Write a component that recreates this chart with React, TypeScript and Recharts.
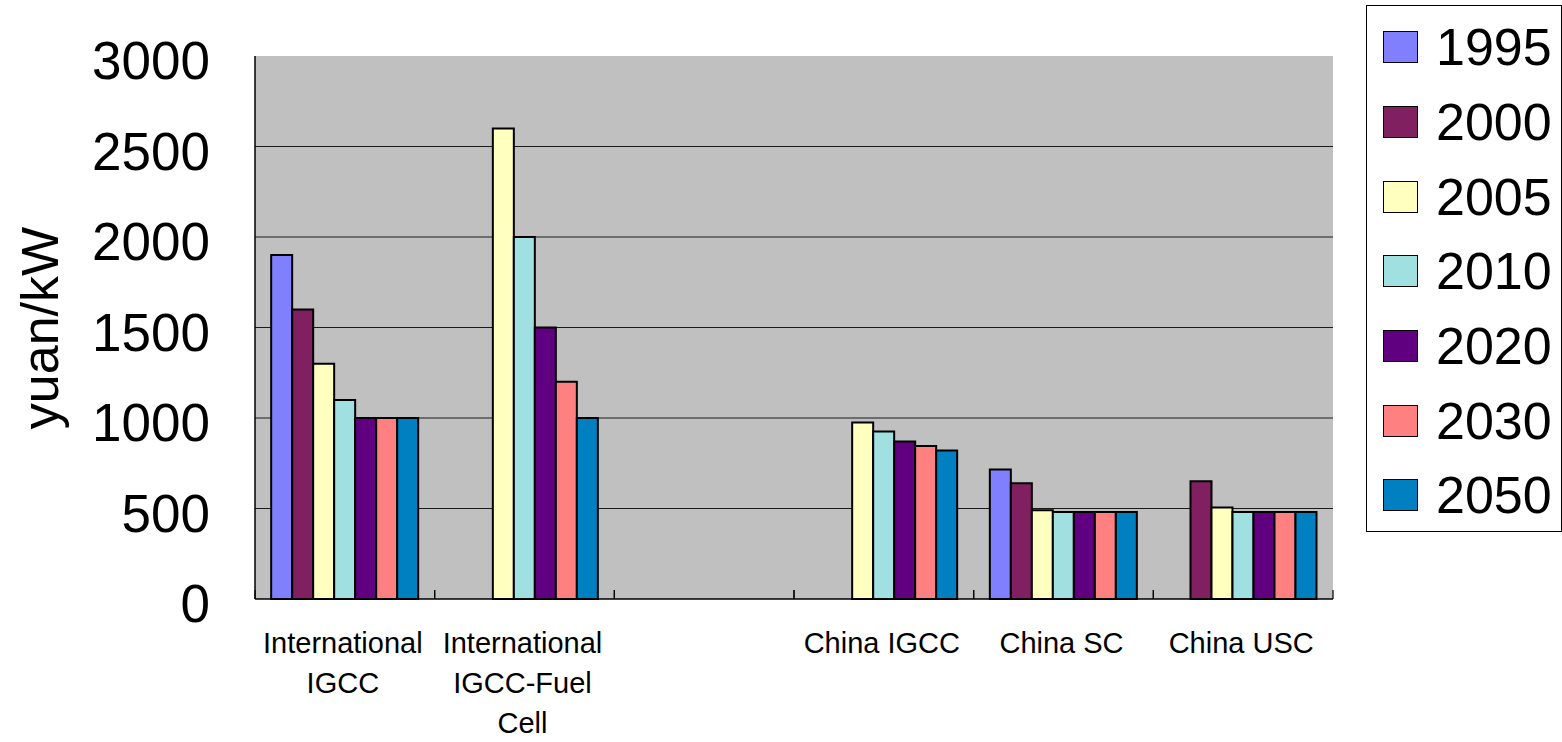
import React from "react";
import { BarChart, Bar, XAxis, YAxis, CartesianGrid, Legend, Label } from "recharts";

const categories = [
    "International\nIGCC",
    "International\nIGCC-Fuel\nCell",
    "",
    "China IGCC",
    "China SC",
    "China USC",
];
const years = ["1995", "2000", "2005", "2010", "2020", "2030", "2050"];
const colors = ["#8080FF", "#802060", "#FFFFC0", "#A0E0E0", "#600080", "#FF8080", "#0080C0"];

const v1995 = [1900, null, null, null, 715, null];
const v2000 = [1600, null, null, null, 640, 650];
const v2005 = [1300, 2600, null, 975, 490, 505];
const v2010 = [1100, 2000, null, 925, 480, 480];
const v2020 = [1000, 1500, null, 870, 480, 480];
const v2030 = [1000, 1200, null, 845, 480, 480];
const v2050 = [1000, 1000, null, 820, 480, 480];
const series = [v1995, v2000, v2005, v2010, v2020, v2030, v2050];

const yTicks = [0, 500, 1000, 1500, 2000, 2500, 3000];

const data = categories.map((name, i) => {
    const row: Record<string, string | number | null> = { name };
    years.forEach((yr, s) => {
        row[yr] = series[s][i];
    });
    return row;
});

const FONT = "'Liberation Sans', Arial, sans-serif";
const W = 1562;
const H = 742;
const PLOT_LEFT = 255;
const PLOT_RIGHT = 1333;
const BAND = (PLOT_RIGHT - PLOT_LEFT) / categories.length;

function XTick(props: any) {
    const { x, y, payload } = props;
    const lines = String(payload.value).split("\n");
    const half = BAND / 2;
    return (
        <g>
            <line x1={x - half} x2={x - half} y1={y} y2={y - 9} stroke="#000" strokeWidth={1.2} />
            <line x1={x + half} x2={x + half} y1={y} y2={y - 9} stroke="#000" strokeWidth={1.2} />
            <text textAnchor="middle" fontSize={29} fontFamily={FONT} fill="#000">
                {lines.map((l, i) => (
                    <tspan key={i} x={x - 2} y={y + 54 + i * 40}>
                        {l}
                    </tspan>
                ))}
            </text>
        </g>
    );
}

function YTick(props: any) {
    const { x, y, payload } = props;
    return (
        <text x={x} y={y + 23} textAnchor="end" fontSize={53} fontFamily={FONT} fill="#000">
            {payload.value}
        </text>
    );
}

function LegendBox() {
    return (
        <div
            style={{
                boxSizing: "border-box",
                width: "100%",
                height: "100%",
                border: "1px solid #000",
                background: "#fff",
                paddingTop: 4,
                fontFamily: FONT,
            }}
        >
            {years.map((yr, i) => (
                <div key={yr} style={{ display: "flex", alignItems: "center", height: 74.7 }}>
                    <div
                        style={{
                            boxSizing: "border-box",
                            marginLeft: 16,
                            width: 35,
                            height: 32,
                            background: colors[i],
                            border: "1.5px solid #000",
                        }}
                    />
                    <span style={{ marginLeft: 18, fontSize: 52, lineHeight: 1, color: "#000" }}>{yr}</span>
                </div>
            ))}
        </div>
    );
}

export default function App() {
    return (
        <div style={{ position: "absolute", left: 0, top: 0, width: W, height: H, background: "#fff", fontFamily: FONT }}>
            <BarChart
                width={W}
                height={H}
                data={data}
                margin={{ top: 56, right: W - PLOT_RIGHT, bottom: 0, left: 0 }}
                barCategoryGap="9%"
                barGap={0}
            >
                <CartesianGrid
                    vertical={false}
                    fill="#C0C0C0"
                    fillOpacity={1}
                    stroke="#1a1a1a"
                    horizontalValues={[500, 1000, 1500, 2000, 2500]}
                />
                <XAxis
                    dataKey="name"
                    interval={0}
                    tickLine={false}
                    tickSize={0}
                    tickMargin={0}
                    height={H - 599}
                    tick={<XTick />}
                    axisLine={{ stroke: "#000", strokeWidth: 1.5 }}
                />
                <XAxis
                    xAxisId="top"
                    dataKey="name"
                    orientation="top"
                    height={0}
                    tick={false}
                    tickLine={false}
                    axisLine={{ stroke: "#808080", strokeWidth: 2 }}
                />
                <YAxis
                    domain={[0, 3000]}
                    ticks={yTicks}
                    width={PLOT_LEFT}
                    tickLine={false}
                    tickSize={0}
                    tickMargin={45}
                    tick={<YTick />}
                    axisLine={{ stroke: "#000", strokeWidth: 1.5 }}
                >
                    <Label
                        content={() => (
                            <text
                                x={40}
                                y={328}
                                transform="rotate(-90, 40, 328)"
                                textAnchor="middle"
                                dominantBaseline="central"
                                fontSize={52}
                                fontFamily={FONT}
                                fill="#000"
                            >
                                yuan/kW
                            </text>
                        )}
                    />
                </YAxis>
                <YAxis
                    yAxisId="r"
                    orientation="right"
                    width={0}
                    tick={false}
                    tickLine={false}
                    axisLine={{ stroke: "#808080", strokeWidth: 2 }}
                />
                <Legend
                    layout="vertical"
                    align="center"
                    verticalAlign="middle"
                    wrapperStyle={{ left: 1366, top: 5, width: 196, height: 527 }}
                    content={() => <LegendBox />}
                />
                {years.map((yr, i) => (
                    <Bar
                        key={yr}
                        dataKey={yr}
                        fill={colors[i]}
                        stroke="#000"
                        strokeWidth={2}
                        isAnimationActive={false}
                    />
                ))}
            </BarChart>
        </div>
    );
}
